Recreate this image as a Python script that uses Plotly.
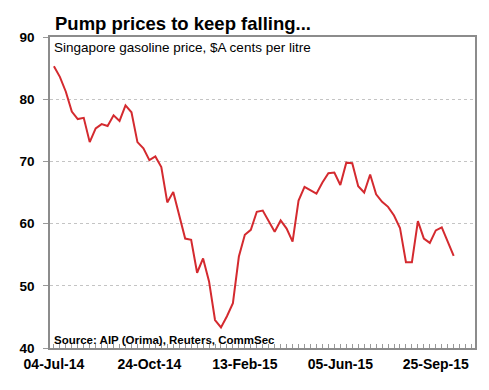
import plotly.graph_objects as go
import pandas as pd

start_date = "2014-07-04"
prices = [85.3, 83.6, 81.2, 78.0, 76.8, 77.0, 73.1, 75.3, 76.0, 75.7,
          77.4, 76.5, 79.0, 77.9, 73.1, 72.1, 70.2, 70.8, 69.1, 63.4,
          65.1, 61.1, 57.6, 57.4, 52.1, 54.4, 50.7, 44.5, 43.3, 45.1,
          47.2, 54.7, 58.2, 59.0, 61.9, 62.1, 60.3, 58.7, 60.5, 59.2,
          57.1, 63.7, 65.9, 65.4, 64.8, 66.6, 68.1, 68.2, 66.2, 69.8,
          69.7, 66.0, 65.0, 67.9, 64.7, 63.5, 62.7, 61.3, 59.3, 53.8,
          53.8, 60.4, 57.6, 56.9, 58.9, 59.4, 57.0, 54.8]
dates = pd.date_range(start_date, periods=len(prices), freq="7D")

tick_vals = ["2014-07-04", "2014-10-24", "2015-02-13", "2015-06-05", "2015-09-25"]
tick_text = ["04-Jul-14", "24-Oct-14", "13-Feb-15", "05-Jun-15", "25-Sep-15"]
y_ticks = [40, 50, 60, 70, 80, 90]

title = "Pump prices to keep falling..."
subtitle = "Singapore gasoline price, $A cents per litre"
source = "Source: AIP (Orima), Reuters, CommSec"

FONT = "Liberation Sans, Arial, sans-serif"

fig = go.Figure()
fig.add_trace(go.Scatter(x=dates, y=prices, mode="lines",
                         line=dict(color="#d42a2f", width=2), hoverinfo="skip"))

# page body has an 8px default margin, so the figure is sized to fit the window
fig.update_layout(
    width=481, height=382,
    margin=dict(l=36, r=13, t=29, b=42),
    paper_bgcolor="white", plot_bgcolor="white",
    showlegend=False,
    font=dict(family=FONT, color="black"),
)

fig.update_xaxes(
    type="date",
    range=["2014-06-29 10:00", "2015-11-10"],
    tickvals=tick_vals, ticktext=tick_text,
    tickfont=dict(size=14, family=FONT, color="black", weight="bold"),
    ticks="inside", ticklen=4, tickcolor="#999999",
    minor=dict(ticks="inside", ticklen=4, tickcolor="#999999",
               dtick=7 * 86400000, tick0=start_date, showgrid=False),
    showgrid=False,
    showline=True, mirror=True, linecolor="#8c8c8c", linewidth=1.5,
    zeroline=False,
    ticklabelstandoff=2,
)
fig.update_yaxes(
    range=[40, 90],
    tickvals=y_ticks,
    tickfont=dict(size=13.5, family=FONT, color="black", weight="bold"),
    ticks="outside", ticklen=5, tickcolor="#999999",
    showgrid=True, gridcolor="#c4c4c4", griddash="dot", gridwidth=1,
    showline=True, mirror=True, linecolor="#8c8c8c", linewidth=1.5,
    zeroline=False,
    ticklabelstandoff=6,
)

fig.add_annotation(text=title, xref="paper", yref="paper", x=0, y=1,
                   xanchor="left", yanchor="middle", xshift=3, yshift=14,
                   showarrow=False,
                   font=dict(size=18.5, family=FONT, color="black", weight="bold"))
fig.add_annotation(text=subtitle, xref="paper", yref="paper", x=0, y=1,
                   xanchor="left", yanchor="middle", xshift=2, yshift=-10,
                   showarrow=False,
                   font=dict(size=13.5, family=FONT, color="black"))
fig.add_annotation(text=source, xref="paper", yref="paper", x=0, y=0,
                   xanchor="left", yanchor="middle", xshift=2, yshift=8,
                   showarrow=False,
                   font=dict(size=11.5, family=FONT, color="black", weight="bold"))

fig.write_html("out.html")
